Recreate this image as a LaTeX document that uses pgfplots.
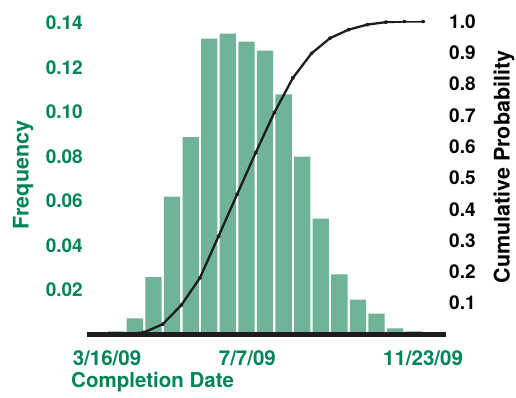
\documentclass[border=0pt]{standalone}
\usepackage{pgfplots}
\pgfplotsset{compat=1.18}
\usepackage{fontspec}
\setmainfont{TeX Gyre Heros}
\definecolor{tgreen}{RGB}{0,133,84}
\definecolor{bgreen}{RGB}{111,180,152}
\definecolor{lblack}{RGB}{30,28,29}
\begin{document}
\begin{tikzpicture}
\path[use as bounding box] (-87pt,-62.5pt) rectangle (429pt,334.5pt);
\begin{axis}[name=ax, at={(0,0)}, anchor=south west,
  scale only axis, width=359pt, height=313pt,
  xmin=-1.076, xmax=18.235, ymin=0, ymax=0.1407,
  axis on top,
  axis x line*=bottom, axis y line*=left,
  x axis line style={line width=5pt, color=lblack, -},
  y axis line style={draw=none},
  major tick length=0pt,
  xtick={0,7.55,17}, xticklabels={3/16/09,7/7/09,11/23/09},
  ytick={0.02,0.04,0.06,0.08,0.10,0.12,0.14},
  yticklabels={0.02,0.04,0.06,0.08,0.10,0.12,0.14},
  xticklabel style={font=\fontsize{20.5}{24}\selectfont\bfseries, text=tgreen, anchor=base, inner sep=0pt, yshift=-30.5pt},
  yticklabel style={font=\fontsize{19}{22}\selectfont\bfseries, text=tgreen, anchor=east, inner sep=0pt, xshift=-4pt},
  xlabel={Completion Date},
  xlabel style={at={(axis description cs:0,0)}, anchor=base west, inner sep=0pt, xshift=-16pt, yshift=-52.5pt, font=\fontsize{20.5}{24}\selectfont\bfseries, text=tgreen},
  ylabel={Frequency},
  ylabel style={at={(axis description cs:-0.178,0.51)}, anchor=center, inner sep=0pt, font=\fontsize{21.5}{24}\selectfont\bfseries, text=tgreen},
]
\addplot[ybar, bar width=16.3pt, fill=bgreen, draw=none] coordinates {
(0.5,0.0014) (1.5,0.0073) (2.5,0.0258) (3.5,0.0620) (4.5,0.0887) (5.5,0.1330)
(6.5,0.1353) (7.5,0.1317) (8.5,0.1276) (9.5,0.1079) (10.5,0.0800) (11.5,0.0521)
(12.5,0.0270) (13.5,0.0157) (14.5,0.0094) (15.5,0.0027) (16.5,0.0014)};
\end{axis}
\begin{axis}[at={(0,0)}, anchor=south west,
  scale only axis, width=359pt, height=313pt,
  xmin=-1.076, xmax=18.235, ymin=0, ymax=1.0,
  hide x axis, axis y line*=right,
  y axis line style={draw=none},
  major tick length=0pt,
  ytick={0.1,0.2,0.3,0.4,0.5,0.6,0.7,0.8,0.9,1.0},
  yticklabels={0.1,0.2,0.3,0.4,0.5,0.6,0.7,0.8,0.9,1.0},
  yticklabel style={font=\fontsize{19}{22}\selectfont\bfseries, text=black, anchor=west, inner sep=0pt, xshift=3pt},
  ylabel={Cumulative Probability},
  ylabel style={at={(axis description cs:1.1616,0.535)}, anchor=center, inner sep=0pt, font=\fontsize{21.5}{24}\selectfont\bfseries, text=black},
]
\addplot[lblack, line width=2.3pt, line join=round, mark=*, mark size=0.9pt] coordinates {
(0,0) (1,0.001) (2,0.007) (3,0.033) (4,0.094) (5,0.181) (6,0.314) (7,0.448)
(8,0.581) (9,0.709) (10,0.820) (11,0.898) (12,0.947) (13,0.974) (14,0.990)
(15,0.998) (16,1.0) (17,1.0)};
\end{axis}
\end{tikzpicture}
\end{document}
